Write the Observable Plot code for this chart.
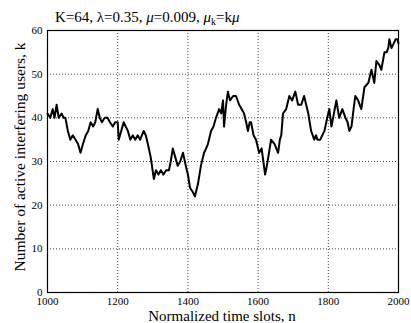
<!DOCTYPE html>
<html>
<head>
<meta charset="utf-8">
<script src="https://cdn.jsdelivr.net/npm/d3@7"></script>
<script src="https://cdn.jsdelivr.net/npm/@observablehq/plot@0.6"></script>
<style>
  html, body { margin: 0; padding: 0; background: white; }
</style>
</head>
<body>
<div id="chart"></div>
<script>
const slots = [1000,1008,1015,1020,1026,1032,1040,1046,1051,1058,1065,1072,1080,1087,1094,1101,1109,1116,1123,1130,1136,1143,1149,1155,1163,1171,1178,1186,1193,1200,1203,1210,1217,1223,1229,1236,1243,1250,1257,1264,1274,1280,1286,1294,1303,1309,1316,1323,1330,1338,1346,1351,1357,1364,1371,1378,1386,1394,1400,1406,1414,1420,1429,1437,1446,1452,1457,1466,1473,1480,1489,1495,1500,1503,1509,1514,1520,1529,1537,1546,1553,1560,1566,1571,1576,1580,1587,1594,1603,1610,1615,1620,1625,1629,1637,1647,1657,1662,1666,1671,1680,1689,1697,1706,1714,1723,1731,1737,1743,1751,1760,1765,1769,1777,1783,1789,1797,1803,1809,1816,1823,1831,1840,1849,1855,1860,1866,1872,1877,1885,1894,1903,1914,1923,1931,1937,1946,1951,1960,1966,1971,1974,1980,1986,1992,1997,2000];
const users = [41,40,42,40,43,40,41,40,40,37,35,36,35,34,32,34,36,37,39,38,39,42,40,39,40,40,39,38,39,39,35,37,39,38,37,35,36,35,36,35,37,36,34,31,26,28,27,28,27,28,28,30,33,31,29,30,32,29,27,24,23,22,25,29,32,33,34,37,38,40,42,41,44,38,43,46,44,45,45,43,42,41,39,37,39,39,36,35,32,33,30,27,29,31,35,34,32,35,36,41,42,45,44,46,43,43,45,43,41,37,35,36,35,35,36,37,40,42,38,41,44,40,42,40,39,37,38,42,45,44,42,47,48,51,48,53,52,51,55,55,56,58,56,57,58,58,57];
const xTicks = [1000,1200,1400,1600,1800,2000];
const yTicks = [0,10,20,30,40,50,60];
const xGridTicks = [1200,1400,1600,1800];
const yGridTicks = [10,20,30,40,50];
const xLabel = "Normalized time slots, n";
const yLabel = "Number of active interfering users, k";

const data = slots.map((n, i) => ({n, k: users[i]}));

const chart = Plot.plot({
  width: 411,
  height: 323,
  marginLeft: 47,
  marginRight: 13,
  marginTop: 30,
  marginBottom: 31,
  x: {domain: [1000, 2000]},
  y: {domain: [0, 60]},
  style: {fontFamily: "'Liberation Serif', 'DejaVu Serif', serif", fontSize: "11px", background: "white", color: "black"},
  marks: [
    Plot.gridX(xGridTicks, {stroke: "#444", strokeOpacity: 1, strokeDasharray: "1,2"}),
    Plot.gridY(yGridTicks, {stroke: "#444", strokeOpacity: 1, strokeDasharray: "1,2"}),
    Plot.axisX({ticks: xTicks, tickSize: 0, tickPadding: 5, label: null, tickFormat: d => String(d)}),
    Plot.axisY({ticks: yTicks, tickSize: 0, tickPadding: 5, label: null, tickFormat: d => String(d)}),
    Plot.line(data, {x: "n", y: "k", stroke: "black", strokeWidth: 2}),
    Plot.frame({stroke: "black", strokeWidth: 1.2})
  ]
});

document.getElementById("chart").appendChild(chart);

const svg = d3.select(chart);
const font = "'Liberation Serif', 'DejaVu Serif', serif";

// Title with Greek symbols
const t = svg.append("text")
  .attr("x", 55).attr("y", 22)
  .attr("text-anchor", "start")
  .attr("font-family", font).attr("font-size", 15).attr("fill", "black");
t.append("tspan").text("K=64, λ=0.35, ");
t.append("tspan").attr("font-style", "italic").text("μ");
t.append("tspan").text("=0.009, ");
t.append("tspan").attr("font-style", "italic").text("μ");
t.append("tspan").attr("font-size", 10).attr("dy", 3).text("k");
t.append("tspan").attr("dy", -3).text("=k");
t.append("tspan").attr("font-style", "italic").text("μ");

// X axis label
svg.append("text")
  .attr("x", 222).attr("y", 321)
  .attr("text-anchor", "middle")
  .attr("font-family", font).attr("font-size", 15).attr("fill", "black")
  .text(xLabel);

// Y axis label
svg.append("text")
  .attr("transform", "translate(25,157) rotate(-90)")
  .attr("text-anchor", "middle")
  .attr("font-family", font).attr("font-size", 15.5).attr("fill", "black")
  .text(yLabel);
</script>
</body>
</html>
